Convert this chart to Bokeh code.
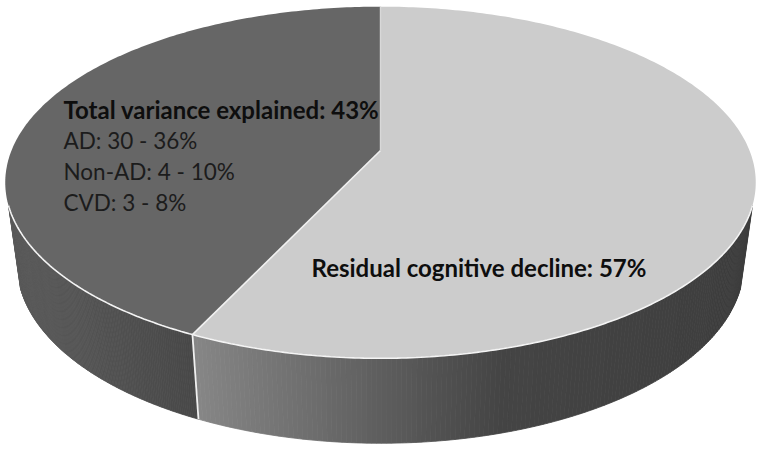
import numpy as np
from bokeh.plotting import figure
from bokeh.embed import file_html
from bokeh.resources import INLINE
from bokeh.core.properties import value

slice_names = ["Residual cognitive decline", "Total variance explained"]
slice_shares = [57, 43]
face_colors = ["#cccccc", "#666666"]
label_lines = ["Total variance explained: 43%", "AD: 30 - 36%", "Non-AD: 4 - 10%", "CVD: 3 - 8%"]
label_bold = ["bold", "normal", "normal", "normal"]
main_label = "Residual cognitive decline: 57%"

# projection of the tilted disc
CX, AY, K_X, K_Y, PERSP = 380.0, 150.0, 369.0, 170.0, 0.1818
ELL_Y, LOW_X, LOW_Y, LOW_CY = 182.0, 0.968, 1.017, 264.0
SIDE_DEG = 107.8


def top(theta):
    u, v = np.sin(theta), -np.cos(theta)
    d = 1 - PERSP * v
    return CX + K_X * u / d, AY + K_Y * v / d


def low(theta):
    x, y = top(theta)
    return CX + (x - CX) * LOW_X, LOW_CY + (y - ELL_Y) * LOW_Y


split = 2 * np.pi * slice_shares[0] / sum(slice_shares)

p = figure(width=760, height=450, output_backend="svg", toolbar_location=None,
           x_range=(0, 760), y_range=(450, 0), min_border=0)
p.axis.visible = False
p.grid.visible = False
p.outline_line_color = None
p.background_fill_color = "white"
p.border_fill_color = "white"

# side wall, drawn as shaded strips
stops_light_x, stops_light_c = [197, 300, 400, 500, 750], [0x86, 0x70, 0x5a, 0x45, 0x3e]
stops_dark_x, stops_dark_c = [8, 100, 192], [0x5c, 0x52, 0x48]


def wall(t0, t1, sx, sc, n=150):
    xs, ys, cols = [], [], []
    ts = np.linspace(t0, t1, n + 1)
    for a, b in zip(ts[:-1], ts[1:]):
        xa, ya = top(a); xb, yb = top(b)
        la, ma = low(a); lb, mb = low(b)
        xs.append([xa, xb, lb, la]); ys.append([ya, yb, mb, ma])
        g = int(np.interp((xa + xb) / 2, sx, sc))
        cols.append(f"#{g:02x}{g:02x}{g:02x}")
    p.patches(xs, ys, fill_color=cols, line_color=cols, line_width=0.8)


wall(np.radians(SIDE_DEG), split, stops_light_x, stops_light_c)
wall(split, np.radians(360 - SIDE_DEG), stops_dark_x, stops_dark_c)

# top faces
t_l = np.linspace(0, split, 240)
t_d = np.linspace(split, 2 * np.pi, 200)
xl, yl = top(t_l)
xd, yd = top(t_d)
p.patch(np.r_[CX, xl], np.r_[AY, yl], fill_color=face_colors[0], line_color=None)
p.patch(np.r_[CX, xd], np.r_[AY, yd], fill_color=face_colors[1], line_color=None)

# white seams
front = np.linspace(np.radians(SIDE_DEG), np.radians(360 - SIDE_DEG), 240)
fx, fy = top(front)
p.line(fx, fy, line_color="#f4f4f4", line_width=1.6)
sx, sy = top(np.array([split]))
lx, ly = low(np.array([split]))
p.line([CX, sx[0]], [AY, sy[0]], line_color="#f0f0f0", line_width=1.6)
p.line([sx[0], lx[0]], [sy[0], ly[0]], line_color="#f0f0f0", line_width=1.8)
p.line([CX, CX], [AY, top(np.array([0.0]))[1][0]], line_color="#d8d8d8", line_width=1.4)

# labels
ys_lab = [109, 140, 171, 202]
for txt, yy, st in zip(label_lines, ys_lab, label_bold):
    p.text([63], [yy], text=[txt], text_font=value("Lato"),
           text_font_size="24px" if st == "bold" else "22.5px",
           text_font_style=st, text_color="#0e0e0e" if st == "bold" else "#1c1c1c",
           text_baseline="middle", text_align="left")
p.text([311], [267], text=[main_label], text_font=value("Lato"), text_font_size="24px",
       text_font_style="bold", text_color="#0e0e0e", text_baseline="middle", text_align="left")

open("out.html", "w").write(file_html(p, INLINE))
